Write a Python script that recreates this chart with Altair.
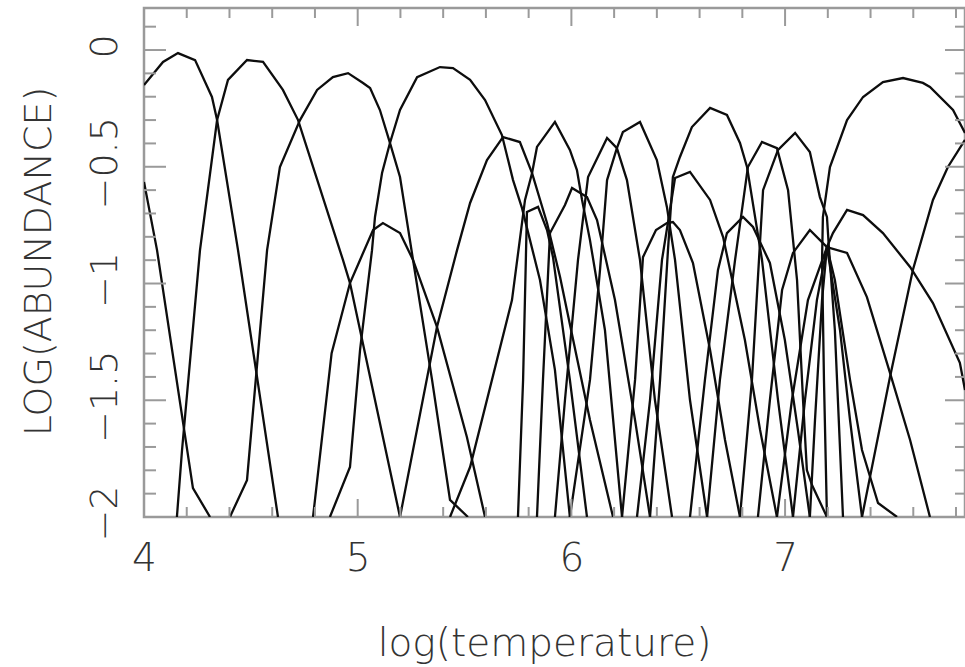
import altair as alt
import pandas as pd

# ---------------- data ----------------
A_X = [4.0, 4.089, 4.159, 4.239, 4.318, 4.342, 4.44, 4.627]
A_Y = [-0.15, -0.051, -0.013, -0.043, -0.201, -0.30, -0.857, -2.0]

B_X = [4.0, 4.061, 4.183, 4.229, 4.309]
B_Y = [-0.565, -0.857, -1.597, -1.876, -2.0]

C_X = [4.154, 4.178, 4.262, 4.342, 4.393, 4.482, 4.557, 4.650, 4.721, 4.931, 4.964, 5.198]
C_Y = [-2.0, -1.713, -0.857, -0.30, -0.128, -0.043, -0.051, -0.171, -0.30, -0.899, -0.998, -2.0]

D_X = [4.402, 4.482, 4.576, 4.636, 4.730, 4.810, 4.884, 4.955, 5.025, 5.058, 5.104, 5.151, 5.198, 5.259, 5.348, 5.432, 5.516]
D_Y = [-2.0, -1.842, -0.857, -0.501, -0.300, -0.171, -0.116, -0.099, -0.141, -0.163, -0.257, -0.398, -0.544, -0.899, -1.413, -1.927, -2.0]

G_X = [4.791, 4.878, 4.964, 5.011, 5.072, 5.118, 5.198, 5.259, 5.371, 5.511, 5.596]
G_Y = [-2.0, -1.298, -0.998, -0.899, -0.771, -0.741, -0.784, -0.899, -1.186, -1.657, -2.0]

F_X = [4.870, 4.964, 5.011, 5.067, 5.081, 5.114, 5.151, 5.198, 5.278, 5.385, 5.446, 5.526, 5.596, 5.675, 5.727, 5.769, 5.853, 5.923, 5.993]
F_Y = [-2.0, -1.786, -1.285, -0.857, -0.715, -0.527, -0.398, -0.257, -0.116, -0.073, -0.077, -0.128, -0.214, -0.364, -0.557, -0.677, -0.985, -1.37, -2.0]

H_X = [5.198, 5.371, 5.465, 5.526, 5.605, 5.680, 5.759, 5.816, 5.886, 5.947, 5.979, 6.087, 6.195]
H_Y = [-2.0, -1.186, -0.857, -0.655, -0.471, -0.373, -0.394, -0.527, -0.741, -0.972, -1.113, -1.585, -2.0]

P2_X = [5.432, 5.526, 5.722, 5.783, 5.816, 5.839, 5.923, 5.993, 6.026, 6.050, 6.087, 6.157, 6.237]
P2_Y = [-2.0, -1.786, -1.071, -0.642, -0.527, -0.415, -0.308, -0.428, -0.514, -0.642, -0.814, -1.199, -2.0]

P6_X = [5.750, 5.774, 5.792, 5.844, 5.886, 5.914, 5.993, 6.073]
P6_Y = [-2.0, -1.413, -0.694, -0.672, -0.771, -0.887, -1.413, -2.0]

P3_X = [5.839, 5.867, 5.900, 5.970, 6.003, 6.073, 6.120, 6.204, 6.298, 6.368]
P3_Y = [-2.0, -1.413, -0.784, -0.664, -0.591, -0.630, -0.728, -1.071, -1.585, -2.0]

P4_X = [5.923, 5.970, 6.031, 6.078, 6.167, 6.213, 6.260, 6.321, 6.391, 6.471]
P4_Y = [-2.0, -1.499, -0.899, -0.544, -0.377, -0.420, -0.557, -0.899, -1.499, -2.0]

P5_X = [5.993, 6.087, 6.134, 6.167, 6.213, 6.241, 6.321, 6.400, 6.447, 6.485, 6.555, 6.635]
P5_Y = [-2.0, -1.413, -0.942, -0.557, -0.420, -0.351, -0.308, -0.471, -0.672, -0.899, -1.499, -2.0]

P12_X = [6.237, 6.298, 6.335, 6.396, 6.447, 6.475, 6.508, 6.569, 6.649, 6.719, 6.789]
P12_Y = [-2.0, -1.413, -0.887, -0.771, -0.741, -0.737, -0.771, -0.912, -1.285, -1.670, -2.0]

P8_X = [6.307, 6.368, 6.424, 6.485, 6.555, 6.649, 6.710, 6.812, 6.883, 6.962]
P8_Y = [-2.0, -1.499, -0.899, -0.548, -0.522, -0.642, -0.801, -1.242, -1.627, -2.0]

P7_X = [6.368, 6.415, 6.452, 6.475, 6.508, 6.564, 6.649, 6.728, 6.789, 6.822, 6.892, 6.967, 7.037]
P7_Y = [-2.0, -1.413, -0.857, -0.544, -0.458, -0.330, -0.248, -0.278, -0.398, -0.501, -0.899, -1.499, -2.0]

P11_X = [6.555, 6.625, 6.686, 6.728, 6.803, 6.850, 6.929, 6.999, 7.060, 7.116]
P11_Y = [-2.0, -1.413, -0.942, -0.784, -0.715, -0.758, -0.912, -1.242, -1.627, -2.0]

P9_X = [6.635, 6.695, 6.766, 6.826, 6.892, 6.962, 7.014, 7.056, 7.084, 7.102, 7.126, 7.196]
P9_Y = [-2.0, -1.413, -0.899, -0.501, -0.394, -0.420, -0.600, -0.985, -1.499, -1.799, -1.863, -2.0]

P10_X = [6.789, 6.845, 6.897, 6.967, 7.047, 7.116, 7.163, 7.196, 7.205, 7.233, 7.271]
P10_Y = [-2.0, -1.413, -0.600, -0.428, -0.355, -0.437, -0.630, -0.715, -0.844, -1.199, -2.0]

P13_X = [6.873, 6.929, 6.986, 7.037, 7.116, 7.196, 7.257, 7.304, 7.360]
P13_Y = [-2.0, -1.499, -1.028, -0.869, -0.771, -0.844, -1.199, -1.585, -2.0]

P15_X = [7.196, 7.182, 7.173, 7.177, 7.210, 7.290, 7.365, 7.458, 7.552, 7.645, 7.678, 7.786, 7.842]
P15_Y = [-2.0, -1.413, -0.899, -0.715, -0.501, -0.300, -0.201, -0.137, -0.120, -0.141, -0.158, -0.257, -0.355]

P16_X = [7.037, 7.093, 7.149, 7.196, 7.224, 7.290, 7.365, 7.458, 7.585, 7.692, 7.818, 7.842]
P16_Y = [-2.0, -1.499, -1.071, -0.844, -0.784, -0.685, -0.707, -0.784, -0.929, -1.084, -1.340, -1.456]

K_X = [6.962, 7.032, 7.107, 7.196, 7.290, 7.383, 7.491, 7.585, 7.678]
K_Y = [-2.0, -1.499, -1.071, -0.844, -0.869, -1.058, -1.383, -1.670, -2.0]

T2_X = [7.116, 7.140, 7.173, 7.196, 7.233, 7.304, 7.360, 7.435, 7.524]
T2_Y = [-2.0, -1.585, -1.071, -0.844, -0.985, -1.413, -1.713, -1.940, -2.0]

P17_X = [7.360, 7.491, 7.598, 7.692, 7.762, 7.842]
P17_Y = [-2.0, -1.400, -0.942, -0.642, -0.501, -0.385]

X_MAJOR = [4, 5, 6, 7]
X_MINOR = [4.2, 4.4, 4.6, 4.8, 5.2, 5.4, 5.6, 5.8, 6.2, 6.4, 6.6, 6.8, 7.2, 7.4, 7.6, 7.8]
Y_MAJOR = [0, -0.5, -1, -1.5, -2]
Y_MINOR = [0.1, -0.1, -0.2, -0.3, -0.4, -0.6, -0.7, -0.8, -0.9,
           -1.1, -1.2, -1.3, -1.4, -1.6, -1.7, -1.8, -1.9]

CURVES = [
    ("A", A_X, A_Y), ("B", B_X, B_Y), ("C", C_X, C_Y), ("D", D_X, D_Y),
    ("G", G_X, G_Y), ("F", F_X, F_Y), ("H", H_X, H_Y), ("P2", P2_X, P2_Y),
    ("P6", P6_X, P6_Y), ("P3", P3_X, P3_Y), ("P4", P4_X, P4_Y), ("P5", P5_X, P5_Y),
    ("P12", P12_X, P12_Y), ("P8", P8_X, P8_Y), ("P7", P7_X, P7_Y), ("P11", P11_X, P11_Y),
    ("P9", P9_X, P9_Y), ("P10", P10_X, P10_Y), ("P13", P13_X, P13_Y), ("P15", P15_X, P15_Y),
    ("P16", P16_X, P16_Y), ("K", K_X, K_Y), ("T2", T2_X, T2_Y), ("P17", P17_X, P17_Y),
]

rows = []
for name, cx, cy in CURVES:
    for i, (xv, yv) in enumerate(zip(cx, cy)):
        rows.append({"curve": name, "i": i, "x": xv, "y": yv})
df = pd.DataFrame(rows)

# ---------------- chart ----------------
W, H = 821, 509
FONT = "DejaVu Sans"
TXT = "#333333"
GRAY = "#9a9a9a"
WEIGHT = 200

xs = alt.Scale(domain=[4, 7.842], nice=False, zero=False)
ys = alt.Scale(domain=[-2.0, 0.18], nice=False, zero=False)

x_axis = alt.Axis(
    values=X_MAJOR, ticks=False, tickSize=0, domain=False, grid=False,
    labelFont=FONT, labelFontSize=39, labelFontWeight=WEIGHT, labelColor=TXT,
    labelPadding=22, labelFlush=False, labelOverlap=False,
    title="log(temperature)", titleFont=FONT, titleFontSize=39,
    titleFontWeight=WEIGHT, titleColor=TXT, titleX=400, titleY=138,
    titleBaseline="alphabetic", titleAnchor="middle")

y_axis = alt.Axis(
    values=Y_MAJOR, format="~g", ticks=False, tickSize=0, domain=False, grid=False,
    labelFont=FONT, labelFontSize=38, labelFontWeight=WEIGHT, labelColor=TXT,
    labelAngle=270, labelAlign="center", labelBaseline="alphabetic",
    labelPadding=28, labelOverlap=False, labelOffset=-4,
    title="LOG(ABUNDANCE)", titleFont=FONT, titleFontSize=38,
    titleFontWeight=WEIGHT, titleColor=TXT, titleAngle=270,
    titleX=-94, titleY=253, titleAlign="center", titleBaseline="alphabetic")

lines = alt.Chart(df).mark_line(color="#0d0d0d", strokeWidth=2.3, clip=True).encode(
    x=alt.X("x:Q", scale=xs, axis=x_axis),
    y=alt.Y("y:Q", scale=ys, axis=y_axis),
    detail="curve:N",
    order="i:Q",
)

def xticks(vals, top, length):
    d = pd.DataFrame({"x": vals})
    y0 = 0 if top else H
    y1 = length if top else H - length
    return alt.Chart(d).mark_rule(color=GRAY, strokeWidth=2).encode(
        x=alt.X("x:Q", scale=xs, axis=x_axis), y=alt.value(y0), y2=alt.value(y1))

def yticks(vals, right, length):
    d = pd.DataFrame({"y": vals})
    x0 = W if right else 0
    x1 = W - length if right else length
    return alt.Chart(d).mark_rule(color=GRAY, strokeWidth=2, clip=True).encode(
        y=alt.Y("y:Q", scale=ys, axis=y_axis), x=alt.value(x0), x2=alt.value(x1))

chart = alt.layer(
    lines,
    xticks(X_MAJOR, False, 18), xticks(X_MINOR, False, 10),
    xticks(X_MAJOR, True, 18), xticks(X_MINOR, True, 10),
    yticks(Y_MAJOR, False, 22), yticks(Y_MINOR, False, 12),
    yticks(Y_MAJOR, True, 20), yticks(Y_MINOR, True, 10),
).properties(
    width=W, height=H,
    autosize=alt.AutoSizeParams(type="none"),
    padding={"left": 144, "top": 8, "right": 0, "bottom": 150},
    background="white",
).configure_view(stroke=GRAY, strokeWidth=2.5)

chart.save("out.html", embed_options={"renderer": "svg", "actions": False})
